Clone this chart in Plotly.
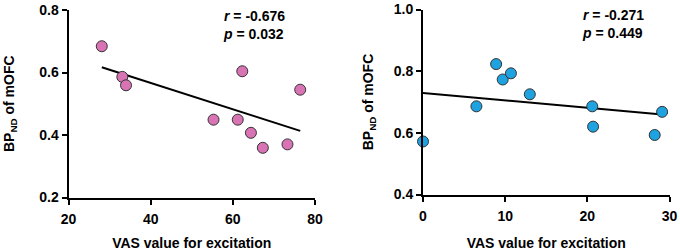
import numpy as np
import plotly.graph_objects as go

# Left panel data
vas_left = [28.1, 33.1, 34.0, 55.3, 61.2, 62.3, 64.4, 67.3, 73.3, 76.4]
bp_left = [0.684, 0.586, 0.559, 0.449, 0.449, 0.604, 0.407, 0.359, 0.370, 0.545]
# Right panel data
vas_right = [0.0, 6.5, 8.9, 9.7, 10.7, 13.0, 20.6, 20.7, 28.2, 29.1]
bp_right = [0.572, 0.686, 0.823, 0.773, 0.793, 0.725, 0.686, 0.620, 0.593, 0.668]

stats_left = ["-0.676", "0.032"]
stats_right = ["-0.271", "0.449"]

FONT = "Liberation Sans, Arial, sans-serif"
W, H = 680, 251

fig = go.Figure()

def add_panel(xs, ys, color, xa, ya):
    xs = np.array(xs); ys = np.array(ys)
    k, b = np.polyfit(xs, ys, 1)
    lx = np.array([xs.min(), xs.max()])
    fig.add_trace(go.Scatter(x=lx, y=k * lx + b, mode="lines",
                             line=dict(color="black", width=2),
                             xaxis=xa, yaxis=ya, showlegend=False, hoverinfo="skip",
                             cliponaxis=False))
    fig.add_trace(go.Scatter(x=xs, y=ys, mode="markers",
                             marker=dict(size=11, color=color, line=dict(color="#333333", width=1)),
                             xaxis=xa, yaxis=ya, showlegend=False, cliponaxis=False))

add_panel(vas_left, bp_left, "#d874b4", "x", "y")
add_panel(vas_right, bp_right, "#1fa3e0", "x2", "y2")

def px_dom_x(a, b):
    return [a / W, b / W]

def px_dom_y(top, bottom):
    return [1 - bottom / H, 1 - top / H]

axis_common = dict(showline=True, linecolor="black", linewidth=2, ticks="outside",
                   ticklen=5, tickwidth=2, tickcolor="black", showgrid=False, zeroline=False,
                   tickfont=dict(family=FONT, size=14, color="black", weight="bold"),
                   automargin=False)

tfont = dict(family=FONT, size=14, color="black", weight="bold")
xtitle = dict(text="VAS value for excitation", font=tfont, standoff=15)
ytitle_l = dict(text="BP<sub>ND</sub> of mOFC", font=tfont, standoff=21)
ytitle_r = dict(text="BP<sub>ND</sub> of mOFC", font=tfont, standoff=17)

fig.update_layout(
    width=W, height=H,
    margin=dict(l=0, r=0, t=0, b=0),
    plot_bgcolor="white", paper_bgcolor="white",
    xaxis=dict(**axis_common, domain=px_dom_x(68.5, 315), range=[20, 80], tickvals=[20, 40, 60, 80],
               anchor="y", title=xtitle, ticklabelstandoff=3),
    yaxis=dict(**axis_common, domain=px_dom_y(10, 197.5), range=[0.2, 0.8], tickvals=[0.2, 0.4, 0.6, 0.8],
               tickformat=".1f", anchor="x", title=ytitle_l),
    xaxis2=dict(**axis_common, domain=px_dom_x(423, 669.5), range=[0, 30], tickvals=[0, 10, 20, 30],
                anchor="y2", title=xtitle, ticklabelstandoff=3),
    yaxis2=dict(**axis_common, domain=px_dom_y(9.5, 194.5), range=[0.4, 1.0], tickvals=[0.4, 0.6, 0.8, 1.0],
                tickformat=".1f", anchor="x2", title=ytitle_r),
)

for (r, p), xref, yref, xpos in [(stats_left, "x domain", "y domain", 0.753),
                                 (stats_right, "x2 domain", "y2 domain", 0.77)]:
    fig.add_annotation(text=f"<i>r</i> = {r}<br><i>p</i> = {p}", xref=xref, yref=yref,
                       x=xpos, y=0.92, xanchor="center", yanchor="middle", showarrow=False,
                       align="left", font=tfont)

fig.write_html("out.html", config={"displayModeBar": False},
               post_script="document.body.style.margin='0';")
